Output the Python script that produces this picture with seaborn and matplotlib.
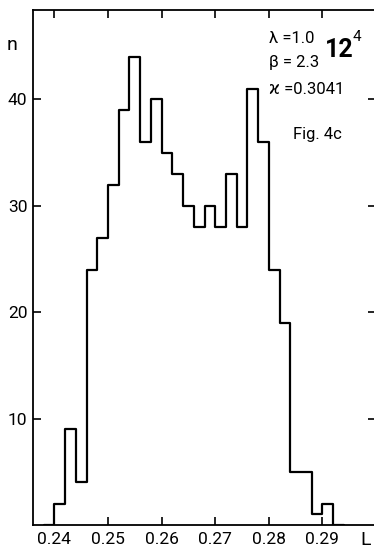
"""
Histogram of L values (Fig. 4c), lambda=1.0, beta=2.3.
"""
import matplotlib
matplotlib.use('Agg')
import matplotlib.pyplot as plt
import seaborn as sns

# left edge of each bin (width 0.002) and its count n;
# the empty bins at both ends close the outline down to n = 0
L_bins = [0.238, 0.240, 0.242, 0.244, 0.246, 0.248, 0.250, 0.252, 0.254,
          0.256, 0.258, 0.260, 0.262, 0.264, 0.266, 0.268, 0.270, 0.272,
          0.274, 0.276, 0.278, 0.280, 0.282, 0.284, 0.286, 0.288, 0.290,
          0.292]
counts = [0, 2, 9, 4, 24, 27, 32, 39, 44, 36, 40, 35, 33, 30, 28, 30, 28,
          33, 28, 41, 36, 24, 19, 5, 5, 1, 2, 0]
bin_edges = L_bins + [0.294]
x_ticks = [0.24, 0.25, 0.26, 0.27, 0.28, 0.29]
x_labels = ['0.24', '0.25', '0.26', '0.27', '0.28', '0.29']
y_ticks = [10, 20, 30, 40]

sns.set_style('ticks', {'axes.edgecolor': 'black', 'text.color': 'black',
                        'xtick.color': 'black', 'ytick.color': 'black'})
plt.rcParams['font.family'] = ['Roboto', 'DejaVu Sans']

fig = plt.figure(figsize=(3.74, 5.5), dpi=100)
ax = fig.add_axes([33 / 374, 25 / 550, 343 / 374, 515 / 550])

sns.histplot(x=L_bins, weights=counts, bins=bin_edges, element='step',
             fill=False, color='black', linewidth=1.6, ax=ax)

ax.set_xlim(0.236, 0.300)
ax.set_ylim(0, 48.4)
ax.set_xticks(x_ticks)
ax.set_xticklabels(x_labels)
ax.set_yticks(y_ticks)
ax.set_xlabel('')
ax.set_ylabel('')
ax.tick_params(direction='in', length=6, width=1.2, labelsize=12.5,
               top=True, right=True, pad=4)
ax.tick_params(axis='x', pad=5)
for s in ax.spines.values():
    s.set_linewidth(1.3)

fig.text(12 / 374, 1 - 45 / 550, 'n', fontsize=14, ha='center', va='center')
fig.text(366 / 374, 1 - 540 / 550, 'L', fontsize=14, ha='center',
         va='center')

fig.text(269 / 374, 1 - 38 / 550, 'λ =1.0', fontsize=12, va='center')
fig.text(269 / 374, 1 - 62 / 550, 'β = 2.3', fontsize=12, va='center')
fig.text(269 / 374, 1 - 90 / 550, 'ϰ =0.3041', fontsize=12, va='center')
fig.text(325 / 374, 1 - 50 / 550, '12', fontsize=18, fontweight='bold',
         va='center')
fig.text(353 / 374, 1 - 37 / 550, '4', fontsize=11, va='center')
fig.text(293 / 374, 1 - 135 / 550, 'Fig. 4c', fontsize=12, va='center')

fig.savefig('out.png', dpi=100)
